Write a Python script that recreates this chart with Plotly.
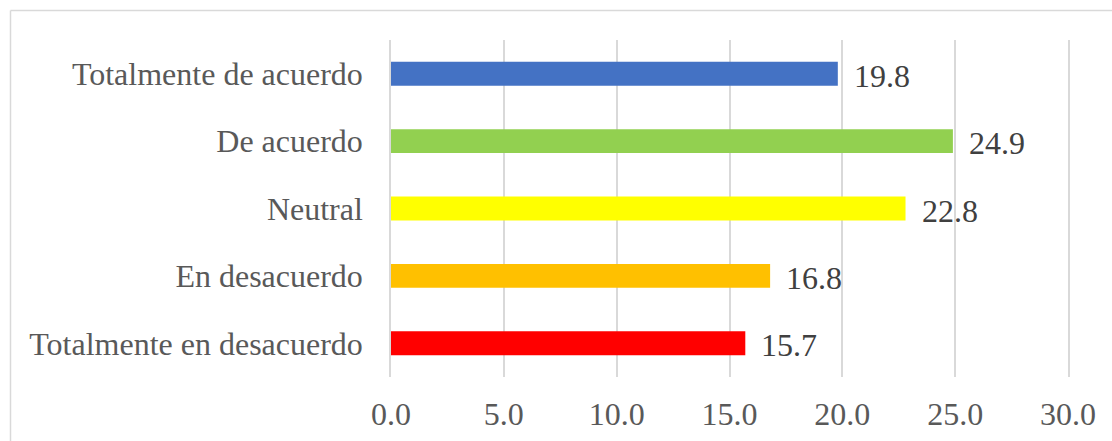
import plotly.graph_objects as go

categories = [
    "Totalmente en desacuerdo",
    "En desacuerdo",
    "Neutral",
    "De acuerdo",
    "Totalmente de acuerdo",
]
values = [15.7, 16.8, 22.8, 24.9, 19.8]
bar_colors = ["#FF0000", "#FFC000", "#FFFF00", "#92D050", "#4472C4"]
tick_values = [0, 5, 10, 15, 20, 25, 30]
tick_labels = ["0.0", "5.0", "10.0", "15.0", "20.0", "25.0", "30.0"]

W, H = 1112, 441
L, R, T, B = 391, 44, 40, 64
pw, ph = W - L - R, H - T - B

fig = go.Figure(
    go.Bar(
        x=values,
        y=categories,
        orientation="h",
        marker=dict(color=bar_colors, line=dict(width=0)),
        width=0.355,
        hoverinfo="x+y",
    )
)

for cat, val in zip(categories, values):
    fig.add_annotation(
        x=val, y=cat, xref="x", yref="y",
        text=f"{val:.1f}", showarrow=False,
        xanchor="left", yanchor="middle", xshift=14, yshift=-2,
        font=dict(family="Liberation Serif, Times New Roman, serif", size=32, color="#404040"),
    )

# outer chart frame (top and left edges)
bx = (10.5 - L) / pw
by = 1 + (T - 10.5) / ph
frame = dict(color="#D9D9D9", width=1.5)
fig.add_shape(type="line", xref="paper", yref="paper", x0=bx, x1=1.2, y0=by, y1=by, line=frame)
fig.add_shape(type="line", xref="paper", yref="paper", x0=bx, x1=bx, y0=by, y1=-0.5, line=frame)

fig.update_layout(
    width=W, height=H,
    margin=dict(l=L, r=R, t=T, b=B, autoexpand=False),
    paper_bgcolor="white", plot_bgcolor="white",
    showlegend=False,
    font=dict(family="Liberation Serif, Times New Roman, serif", size=32, color="#595959"),
)
fig.update_xaxes(
    range=[0, 30], tickvals=tick_values, ticktext=tick_labels,
    showgrid=True, gridcolor="#D9D9D9", gridwidth=1.5,
    zeroline=False, showline=False, ticks="",
    ticklabelstandoff=15,
    tickfont=dict(size=32, color="#595959"),
)
fig.update_yaxes(
    categoryorder="array", categoryarray=categories,
    showgrid=False, zeroline=False,
    showline=True, mirror=True, linecolor="#D9D9D9", linewidth=1.5,
    ticks="",
    ticklabelstandoff=20,
    tickfont=dict(size=32, color="#595959"),
)

fig.write_html("out.html")
